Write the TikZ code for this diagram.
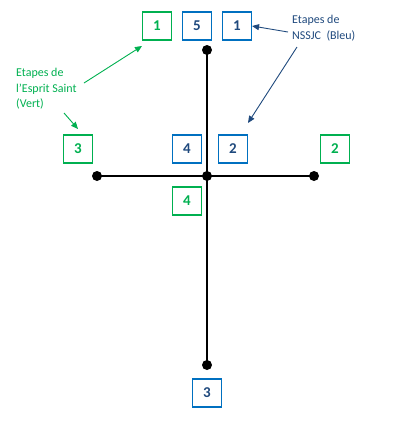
\documentclass[tikz,border=0pt]{standalone}
\usepackage{fontspec}
\setmainfont{Carlito}
\usetikzlibrary{arrows.meta}
\definecolor{xgreen}{HTML}{00B050}
\definecolor{xblue}{HTML}{0070C0}
\definecolor{xdark}{HTML}{1F497D}
\tikzset{
  gbox/.style={draw=xgreen, line width=1.1pt, minimum width=29pt, minimum height=28pt, inner sep=0pt, text=xgreen, font=\fontsize{15}{17}\selectfont\bfseries},
  bbox/.style={draw=xblue, line width=1.1pt, minimum width=29pt, minimum height=28pt, inner sep=0pt, text=xdark, font=\fontsize{15}{17}\selectfont\bfseries},
  bar/.style={line width=2.8pt, black},
  dot/.style={circle, fill=black, inner sep=0pt, minimum size=10pt},
  note/.style={align=left, inner sep=0pt, anchor=north west, font=\fontsize{12}{15.5}\selectfont},
  garrow/.style={draw=xgreen, line width=0.9pt, -{Triangle[length=7pt,width=6pt]}},
  barrow/.style={draw=xdark, line width=0.9pt, -{Triangle[length=7pt,width=6pt]}}
}
\begin{document}
\begin{tikzpicture}[x=1pt,y=-1pt]
\useasboundingbox (0,0) rectangle (418,421);
% skeleton
\node[dot] (top) at (207,50) {};
\node[dot] (ctr) at (207,176) {};
\node[dot] (bot) at (207,365) {};
\node[dot] (lft) at (97,176) {};
\node[dot] (rgt) at (314,176) {};
\draw[bar] (top.center) -- (ctr.center) -- (bot.center);
\draw[bar] (lft.center) -- (ctr.center) -- (rgt.center);
% boxes
\node[gbox] (g1) at (157,26) {1};
\node[bbox] (b5) at (197,26) {5};
\node[bbox] (b1) at (237,26) {1};
\node[gbox] (g3) at (78,149) {3};
\node[bbox] (b4) at (187,149) {4};
\node[bbox] (b2) at (233,149) {2};
\node[gbox] (g2) at (335,149) {2};
\node[gbox] (g4) at (187,201) {4};
\node[bbox] (b3) at (207,393) {3};
% notes
\node[note, text=xgreen] (gn) at (16,68) {Etapes de\\l’Esprit Saint\\(Vert)};
\node[note, text=xdark] (bn) at (292,15) {Etapes de\\NSSJC~ (Bleu)};
\coordinate (ga1) at (84,83);
\coordinate (ga2) at (64,113);
\coordinate (ba1) at (288,32);
\coordinate (ba2) at (297,47);
\draw[garrow] (ga1) -- (142,46);
\draw[garrow] (ga2) -- (78,129);
\draw[barrow] (ba1) -- (b1.east);
\draw[barrow] (ba2) -- (248,123);
\end{tikzpicture}
\end{document}
